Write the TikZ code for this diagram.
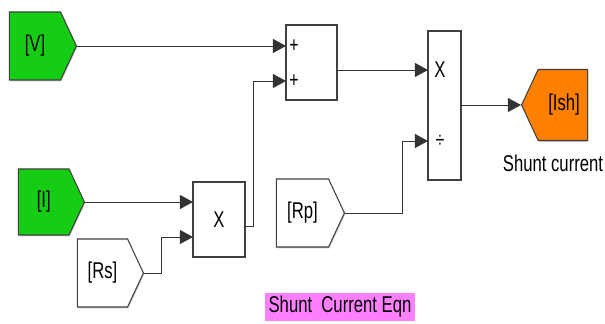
\documentclass[tikz,border=0pt]{standalone}
\usepackage{fontspec}
\setmainfont{Liberation Sans}[FakeStretch=0.73]
\usepackage{xcolor}
\usepackage{tikz}
\usetikzlibrary{shapes,arrows.meta,shadows}

\definecolor{fromgreen}{RGB}{20,205,20}
\definecolor{gotoorange}{RGB}{255,128,0}
\definecolor{notepink}{RGB}{255,128,255}

\begin{document}
\begin{tikzpicture}[
    tag/.style={signal, signal to=east, draw=black!75, line width=0.6pt, fill=white, minimum width=1.34cm, minimum height=1.36cm, signal pointer angle=130, inner sep=0pt, font=\fontsize{13}{15}\selectfont, drop shadow={shadow xshift=0.5pt, shadow yshift=-0.8pt, opacity=0.4}},
    block/.style={rectangle, draw=black!75, line width=0.6pt, fill=white, inner sep=0pt, font=\fontsize{13}{15}\selectfont, drop shadow={shadow xshift=0.5pt, shadow yshift=-0.8pt, opacity=0.4}},
    sign/.style={inner sep=0pt, font=\fontsize{12.5}{14}\selectfont},
    sig/.style={draw=black!80, line width=0.55pt, -{Triangle[length=7.5pt, width=8pt]}},
    wire/.style={draw=black!80, line width=0.55pt}
]
\useasboundingbox (0,0) rectangle (12.1,6.48);

% From blocks (left side)
\node[tag, fill=fromgreen, anchor=east] (V) at (1.54,5.56) {[V]};
\node[tag, fill=fromgreen, anchor=east, minimum width=1.32cm, minimum height=1.32cm] (I) at (1.70,2.44) {[I]};
\node[tag, anchor=east, minimum width=1.32cm] (Rs) at (2.88,1.02) {[Rs]};
\node[tag, anchor=east, minimum width=1.36cm] (Rp) at (6.90,2.22) {[Rp]};

% Sum, product and divide blocks
\node[block, minimum width=1.02cm, minimum height=1.50cm] (sum) at (6.23,5.23) {};
\node[block, minimum width=1.04cm, minimum height=1.50cm] (prod) at (4.38,2.09) {X};
\node[block, minimum width=0.66cm, minimum height=2.98cm] (div) at (8.89,4.37) {};

\node[sign] (sumplusa) at (5.88,5.56) {+};
\node[sign] (sumplusb) at (5.88,4.86) {+};
\node[sign, font=\fontsize{13}{15}\selectfont] (divtimes) at (8.80,5.08) {X};
\node[sign] (divover) at (8.80,3.66) {÷};

% Goto block (right side)
\node[tag, signal to=west, fill=gotoorange, anchor=west, minimum width=1.32cm, minimum height=1.42cm] (Ish) at (10.42,4.38) {\hspace*{0.05cm}[Ish]};
\node[font=\fontsize{13}{15}\selectfont] (ishlabel) at (11.06,3.22) {Shunt current};

% Annotation
\node[fill=notepink, minimum width=3.0cm, minimum height=0.56cm, inner sep=0pt, font=\fontsize{13}{15}\selectfont] (eqn) at (6.80,0.34) {Shunt\ \ Current Eqn};

% Ports
\coordinate (sumina) at (5.72,5.56);
\coordinate (suminb) at (5.72,4.86);
\coordinate (sumout) at (6.74,5.08);
\coordinate (prodina) at (3.86,2.44);
\coordinate (prodinb) at (3.86,1.74);
\coordinate (prodout) at (4.90,1.96);
\coordinate (divina) at (8.56,5.08);
\coordinate (divinb) at (8.56,3.66);
\coordinate (divout) at (9.22,4.38);

% Signal lines
\draw[sig] (V.east) -- (sumina);
\draw[sig] (I.east) -- (prodina);
\draw[sig] (Rs.east) -- ++(0.34,0) |- (prodinb);
\draw[sig] (prodout) -- ++(0.16,0) |- (suminb);
\draw[sig] (sumout) -- (divina);
\draw[sig] (Rp.east) -- ++(1.14,0) |- (divinb);
\draw[sig] (divout) -- (Ish.west);

\end{tikzpicture}
\end{document}
